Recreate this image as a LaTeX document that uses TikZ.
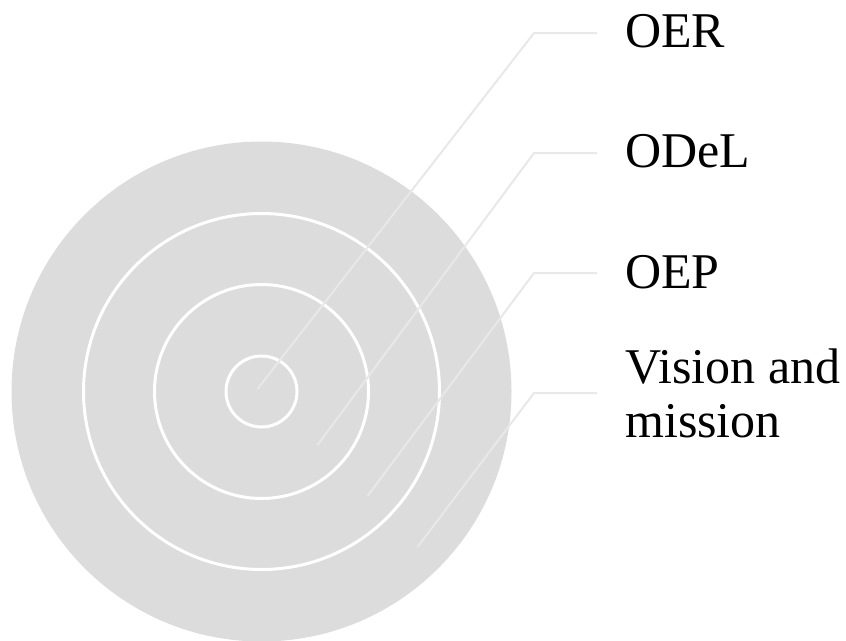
\documentclass[tikz,border=0pt]{standalone}
\usepackage{fontspec}
\setmainfont{Liberation Serif}
\usetikzlibrary{positioning,calc}
\definecolor{discgray}{HTML}{DCDCDC}
\definecolor{leadergray}{HTML}{E8E8E8}

\begin{document}
\begin{tikzpicture}[x=1pt, y=-1pt,
  disc/.style = {
    circle, fill=discgray, inner sep=0pt,
  },
  ring line/.style = {
    circle, draw=white, line width=3pt, inner sep=0pt,
  },
  leader line/.style = {
    draw=leadergray, line width=2pt,
  },
  label text/.style = {
    anchor=west, inner sep=0pt, align=left,
    font=\fontsize{50}{54}\selectfont,
}]
  \useasboundingbox (0,0) rectangle (846,640);
  % target rings
  \node[disc, minimum size=500pt] (mission) at (261.5,391.5) {};
  \node[ring line, minimum size=356pt] (oep) at (mission.center) {};
  \node[ring line, minimum size=214pt] (odel) at (mission.center) {};
  \node[ring line, minimum size=71pt] (oer) at (mission.center) {};
  % labels
  \node[label text] (oer-label) at (625,31) {OER};
  \node[label text] (odel-label) at (625,151) {ODeL};
  \node[label text] (oep-label) at (625,272) {OEP};
  \node[label text] (mission-label) at (625,393) {Vision and\\mission};
  % leader lines
  \foreach \ring/\dx/\dy/\ly in {oer/-4/-2.5/33, odel/56/53.5/153, oep/106/104.5/273, mission/156/155.5/393}
  {
    \coordinate (\ring-in) at ($(mission.center)+(\dx,\dy)$);
    \draw[leader line] (\ring-in) -- ([xshift=-91pt]\ring-label.west |- 0,\ly)
      -- ([xshift=-28pt]\ring-label.west |- 0,\ly);
  }
\end{tikzpicture}
\end{document}
